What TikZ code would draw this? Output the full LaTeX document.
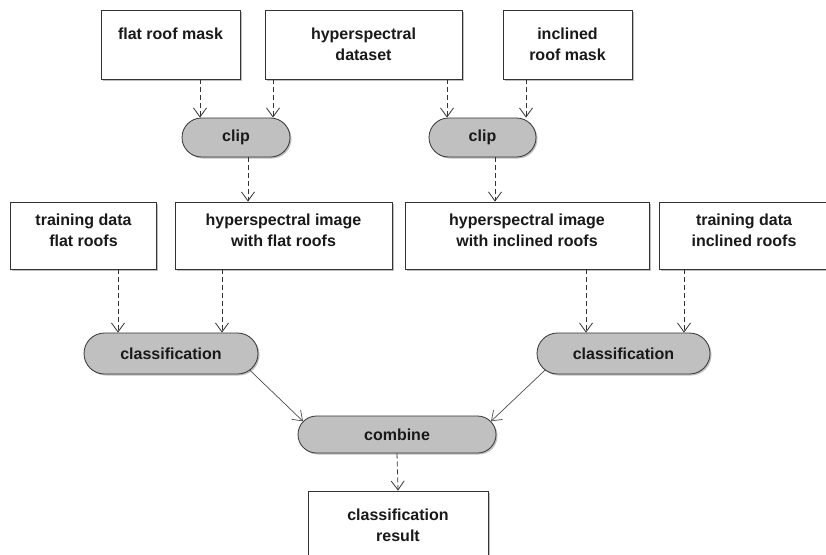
\documentclass[tikz,border=0pt]{standalone}
\usepackage{fontspec}
\setmainfont{Liberation Sans}
\usetikzlibrary{arrows.meta,shapes.misc,shadows}
\definecolor{opgray}{HTML}{C0C0C0}
\definecolor{linegray}{HTML}{333333}
\begin{document}
\begin{tikzpicture}[x=1pt,y=-1pt,
        every node/.style={font=\fontsize{16}{21}\selectfont\bfseries,text=black!90,align=center},
        databox/.style={rectangle,draw=linegray,fill=white,line width=0.8pt,inner sep=0pt,
            drop shadow={shadow xshift=1.5pt,shadow yshift=-1.5pt,fill=black,opacity=0.25}},
        midbox/.style={databox,minimum height=67pt,text depth=10pt},
        opnode/.style={rounded rectangle,draw=linegray,fill=opgray,line width=0.8pt,inner sep=0pt,
            drop shadow={shadow xshift=1.5pt,shadow yshift=-1.5pt,fill=black,opacity=0.25}},
        dep/.style={draw=linegray,line width=0.8pt,dash pattern=on 5pt off 3pt,
            -{Straight Barb[length=9pt,width=13pt,line width=0.8pt]}},
        flow/.style={draw=black!70,line width=0.7pt,
            -{Straight Barb[length=9pt,width=13pt,line width=0.7pt]}}]
    \useasboundingbox (0,0) rectangle (826,554);
    \node[databox,minimum width=139pt,minimum height=69pt] (mflat) at (170.5,44.5) {flat roof mask\\\mbox{}};
    \node[databox,minimum width=197pt,minimum height=69pt] (data) at (363.5,44.5) {hyperspectral\\dataset};
    \node[databox,minimum width=129pt,minimum height=69pt] (mincl) at (567.5,44.5) {inclined\\roof mask};
    \node[opnode,minimum width=108pt,minimum height=39pt] (clipA) at (236,137.5) {clip};
    \node[opnode,minimum width=107pt,minimum height=39pt] (clipB) at (482.5,137.5) {clip};
    \node[midbox,minimum width=146pt] (trflat) at (83.5,235.5) {training data\\flat roofs};
    \node[midbox,minimum width=217pt] (imflat) at (283.5,235.5) {hyperspectral image\\with flat roofs};
    \node[midbox,minimum width=244pt] (imincl) at (527,235.5) {hyperspectral image\\with inclined roofs};
    \node[midbox,minimum width=170pt] (trincl) at (744,235.5) {training data\\inclined roofs};
    \node[opnode,minimum width=174pt,minimum height=41pt] (classA) at (171,353.5) {classification};
    \node[opnode,minimum width=173pt,minimum height=41pt] (classB) at (623.5,353.5) {classification};
    \node[opnode,minimum width=198pt,minimum height=37pt] (comb) at (397,434.5) {combine};
    \node[databox,minimum width=180pt,minimum height=69pt] (result) at (398,525.5) {classification\\result};

    \draw[dep] ([xshift=29.5]mflat.south) -- ([xshift=-36]clipA.north);
    \draw[dep] ([xshift=-90.5]data.south) -- ([xshift=37]clipA.north);
    \draw[dep] ([xshift=83.5]data.south) -- ([xshift=-35.5]clipB.north);
    \draw[dep] ([xshift=-41.5]mincl.south) -- ([xshift=43.5]clipB.north);
    \draw[dep] ([xshift=12]clipA.south) -- ([xshift=-35.5]imflat.north);
    \draw[dep] ([xshift=12.5]clipB.south) -- ([xshift=-32]imincl.north);
    \draw[dep] ([xshift=34.5]trflat.south) -- ([xshift=-53]classA.north);
    \draw[dep] ([xshift=-61.5]imflat.south) -- ([xshift=51]classA.north);
    \draw[dep] ([xshift=59]imincl.south) -- ([xshift=-37.5]classB.north);
    \draw[dep] ([xshift=-60]trincl.south) -- ([xshift=60.5]classB.north);
    \draw[flow] (classA.-12) -- (comb.172);
    \draw[flow] (classB.192) -- (comb.8);
    \draw[dep] (comb.south) -- (result.north);
\end{tikzpicture}
\end{document}
